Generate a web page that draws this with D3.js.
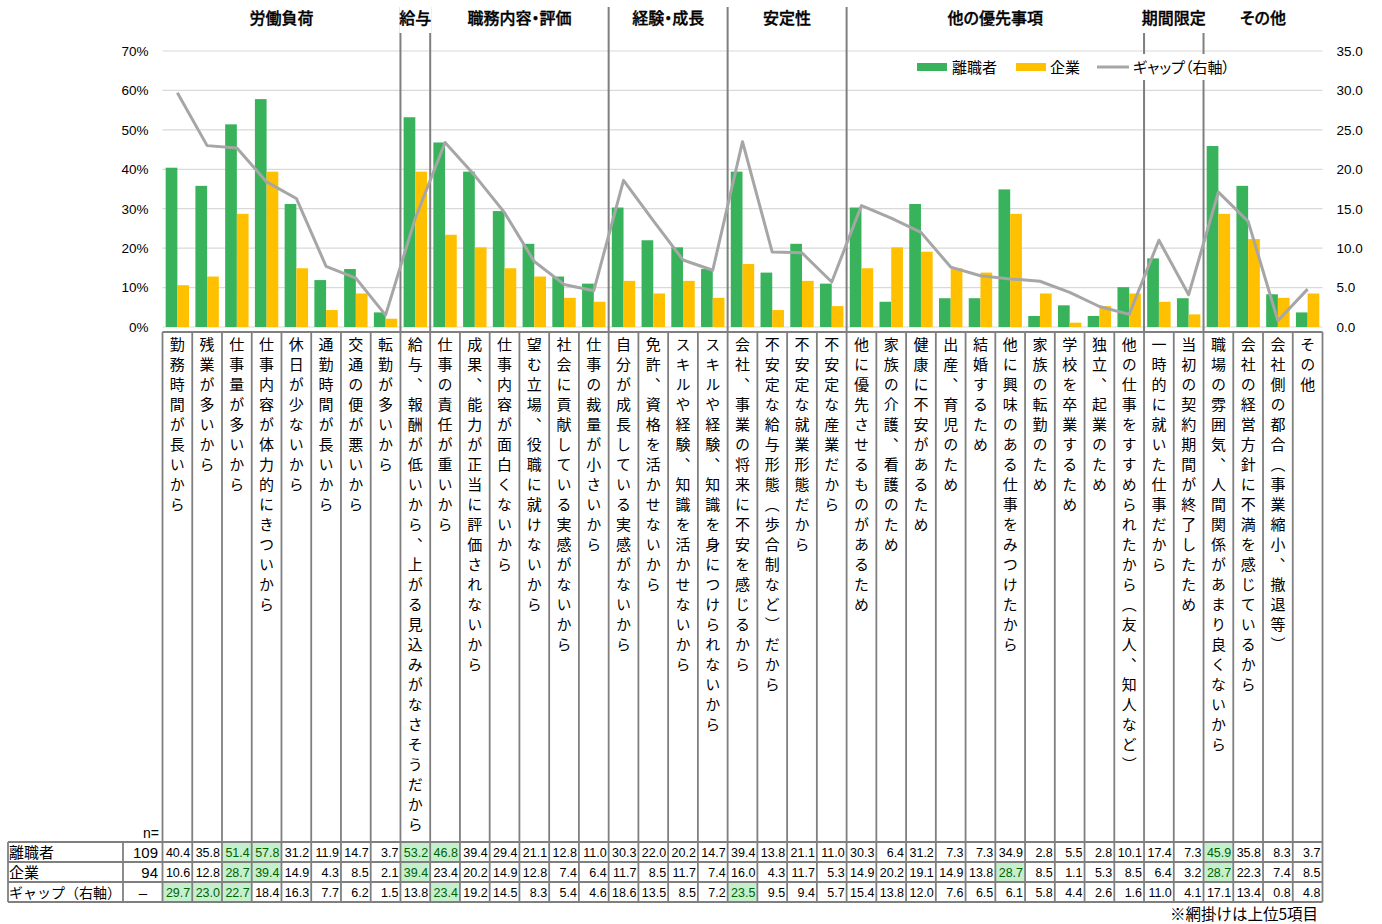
<!DOCTYPE html>
<html><head><meta charset="utf-8">
<script src="https://cdn.jsdelivr.net/npm/d3@7"></script>
<style>
body{margin:0;background:#fff;}
svg text{font-family:"Noto Sans CJK JP","Noto Sans",sans-serif;}
.num{font-family:"Liberation Sans",Arial,sans-serif;}
</style></head>
<body>
<svg id="chart" width="1382" height="924"></svg>
<script>
const categories = [
 "勤務時間が長いから","残業が多いから","仕事量が多いから","仕事内容が体力的にきついから","休日が少ないから","通勤時間が長いから","交通の便が悪いから","転勤が多いから",
 "給与、報酬が低いから、上がる見込みがなさそうだから",
 "仕事の責任が重いから","成果、能力が正当に評価されないから","仕事内容が面白くないから","望む立場、役職に就けないから","社会に貢献している実感がないから","仕事の裁量が小さいから",
 "自分が成長している実感がないから","免許、資格を活かせないから","スキルや経験、知識を活かせないから","スキルや経験、知識を身につけられないから",
 "会社、事業の将来に不安を感じるから","不安定な給与形態（歩合制など）だから","不安定な就業形態だから","不安定な産業だから",
 "他に優先させるものがあるため","家族の介護、看護のため","健康に不安があるため","出産、育児のため","結婚するため","他に興味のある仕事をみつけたから","家族の転勤のため","学校を卒業するため","独立、起業のため","他の仕事をすすめられたから（友人、知人など）",
 "一時的に就いた仕事だから","当初の契約期間が終了したため",
 "職場の雰囲気、人間関係があまり良くないから","会社の経営方針に不満を感じているから","会社側の都合（事業縮小、撤退等）","その他"
];
const groupNames = ["労働負荷","給与","職務内容・評価","経験・成長","安定性","他の優先事項","期間限定","その他"];
const groupSizes = [8,1,6,4,4,10,2,4];
const leavers = [40.4,35.8,51.4,57.8,31.2,11.9,14.7,3.7,53.2,46.8,39.4,29.4,21.1,12.8,11.0,30.3,22.0,20.2,14.7,39.4,13.8,21.1,11.0,30.3,6.4,31.2,7.3,7.3,34.9,2.8,5.5,2.8,10.1,17.4,7.3,45.9,35.8,8.3,3.7];
const companies = [10.6,12.8,28.7,39.4,14.9,4.3,8.5,2.1,39.4,23.4,20.2,14.9,12.8,7.4,6.4,11.7,8.5,11.7,7.4,16.0,4.3,11.7,5.3,14.9,20.2,19.1,14.9,13.8,28.7,8.5,1.1,5.3,8.5,6.4,3.2,28.7,22.3,7.4,8.5];
const gap = [29.7,23.0,22.7,18.4,16.3,7.7,6.2,1.5,13.8,23.4,19.2,14.5,8.3,5.4,4.6,18.6,13.5,8.5,7.2,23.5,9.5,9.4,5.7,15.4,13.8,12.0,7.6,6.5,6.1,5.8,4.4,2.6,1.6,11.0,4.1,17.1,13.4,0.8,4.8];
const leftTicks = [0,0.1,0.2,0.3,0.4,0.5,0.6,0.7];
const rightTicks = [0,5,10,15,20,25,30,35];
const seriesNames = ["離職者","企業","ギャップ（右軸）"];
const rowNs = ["109","94","–"];
const noteText = "※網掛けは上位5項目";

const GREEN="#38b35c", YELLOW="#ffc000", GRAY="#a6a6a6", LINE="#7f7f7f";
const svg = d3.select("#chart");
const L=162.5, R=1322.5, T=51, B=327;
const x = d3.scaleBand().domain(categories).range([L,R]);
const bw = x.bandwidth();
const xs = d3.scaleBand().domain(["a","b"]).range([0,bw]).paddingOuter(0.27);
const y = d3.scaleLinear().domain([0,0.7]).range([B,T]);
const yr = d3.scaleLinear().domain([0,35]).range([B,T]);

// gridlines
svg.append("g").selectAll("line").data(leftTicks).join("line")
 .attr("x1",L).attr("x2",R).attr("y1",d=>y(d)).attr("y2",d=>y(d))
 .attr("stroke","#d9d9d9").attr("stroke-width",1.2);

// axes
const ax = svg.append("g").attr("transform",`translate(${L},0)`)
 .call(d3.axisLeft(y).tickValues(leftTicks).tickFormat(d3.format(".0%")).tickSize(0).tickPadding(14));
ax.select(".domain").remove();
ax.selectAll("text").attr("class","num").style("font-size","13.5px").attr("fill","#000");
const ar = svg.append("g").attr("transform",`translate(${R},0)`)
 .call(d3.axisRight(yr).tickValues(rightTicks).tickFormat(d3.format(".1f")).tickSize(0).tickPadding(14));
ar.select(".domain").remove();
ar.selectAll("text").attr("class","num").style("font-size","13.5px").attr("fill","#000");

// group boundaries
const bounds=[]; let acc=0;
groupSizes.forEach((s,i)=>{ bounds.push({name:groupNames[i],s:acc,e:acc+s}); acc+=s; });
const bx = i => i>=categories.length ? R : x(categories[i]);

// bars
const bars = svg.append("g");
bars.selectAll(".g").data(categories).join("rect")
 .attr("x",d=>x(d)+xs("a")).attr("width",xs.bandwidth())
 .attr("y",(d,i)=>y(leavers[i]/100)).attr("height",(d,i)=>B-y(leavers[i]/100))
 .attr("fill",GREEN);
bars.selectAll(".c").data(categories).join("rect")
 .attr("x",d=>x(d)+xs("b")).attr("width",xs.bandwidth())
 .attr("y",(d,i)=>y(companies[i]/100)).attr("height",(d,i)=>B-y(companies[i]/100))
 .attr("fill",YELLOW);

// dividers
svg.append("g").selectAll("line").data(bounds.slice(1)).join("line")
 .attr("x1",d=>bx(d.s)).attr("x2",d=>bx(d.s)).attr("y1",7).attr("y2",332)
 .attr("stroke",LINE).attr("stroke-width",2);

// gap line
const line = d3.line().x((d,i)=>x(categories[i])+bw/2).y(d=>yr(d));
svg.append("path").datum(gap).attr("d",line).attr("fill","none")
 .attr("stroke",GRAY).attr("stroke-width",3).attr("stroke-linejoin","round");

// group headers
const hg = svg.append("g");
bounds.forEach(b=>{
  const cx=(bx(b.s)+bx(b.e))/2;
  const t = hg.append("text").attr("x",cx).attr("y",24).attr("text-anchor","middle")
   .style("font-size","16px").style("font-weight","500").style("font-feature-settings","'palt'")
   .attr("stroke","#000").attr("stroke-width",0.35).text(b.name);
  const bb=t.node().getBBox();
  if (bb.width > bx(b.e)-bx(b.s)-4) {
    hg.insert("rect","text").attr("x",bb.x).attr("y",bb.y).attr("width",bb.width).attr("height",bb.height+4).attr("fill","#fff");
  }
});
hg.selectAll("text").raise();

// table
const tb = svg.append("g");
const rowY=[842,862,882,902];
tb.selectAll(".lab").data(categories).join("text")
 .attr("x",d=>x(d)+bw/2).attr("y",337)
 .style("writing-mode","vertical-rl").style("font-size","15px").style("letter-spacing","5px")
 .text(d=>d);
const rows=[leavers,companies,gap];
rows.forEach((vals,r)=>{
  const yc=(rowY[r]+rowY[r+1])/2;
  const sorted=[...vals].sort((a,b)=>b-a); const thr=sorted[4];
  vals.forEach((v,i)=>{
    const x0=x(categories[i]);
    const hi = v>=thr;
    if(hi) tb.append("rect").attr("x",x0).attr("y",rowY[r]).attr("width",bw).attr("height",20).attr("fill","#c6efce");
    tb.append("text").attr("class","num").attr("x",x0+bw-2).attr("y",yc+4.5).attr("text-anchor","end")
     .style("font-size","12.5px").attr("fill",hi?"#006100":"#000").text(v.toFixed(1));
  });
  tb.append("text").attr("x",9).attr("y",yc+5.5).style("font-size",r<2?"15px":"14px").text(seriesNames[r]);
  tb.append("text").attr("class","num").attr("x",r<2?158:143).attr("y",yc+5.5)
   .attr("text-anchor",r<2?"end":"middle").style("font-size","15px").text(rowNs[r]);
});
tb.append("text").attr("class","num").attr("x",159).attr("y",838).attr("text-anchor","end").style("font-size","14px").text("n=");
const tl = tb.append("g").attr("stroke",LINE).attr("stroke-width",1.8);
tl.append("line").attr("x1",L).attr("x2",R).attr("y1",332).attr("y2",332);
rowY.forEach(yy=>tl.append("line").attr("x1",8).attr("x2",R).attr("y1",yy).attr("y2",yy));
d3.range(categories.length+1).forEach(i=>{
  const xx=bx(i);
  tl.append("line").attr("x1",xx).attr("x2",xx).attr("y1",332).attr("y2",902);
});
[8,123].forEach(xx=>tl.append("line").attr("x1",xx).attr("x2",xx).attr("y1",842).attr("y2",902));
svg.append("text").attr("x",1318).attr("y",920).attr("text-anchor","end").style("font-size","15.5px").text(noteText);

// legend (on top)
const lg = svg.append("g");
lg.append("rect").attr("x",905).attr("y",54).attr("width",335).attr("height",26).attr("fill","#fff");
lg.append("rect").attr("x",917).attr("y",63).attr("width",30).attr("height",8).attr("fill",GREEN);
lg.append("rect").attr("x",1016).attr("y",63).attr("width",30).attr("height",8).attr("fill",YELLOW);
lg.append("line").attr("x1",1097).attr("x2",1129).attr("y1",67).attr("y2",67).attr("stroke",GRAY).attr("stroke-width",3);
[[952,0],[1050,1],[1133,2]].forEach(([lx,i])=>{
  lg.append("text").attr("x",lx).attr("y",72.5).style("font-size","15px")
   .style("font-feature-settings","'palt'").text(seriesNames[i]);
});
</script>
</body></html>
